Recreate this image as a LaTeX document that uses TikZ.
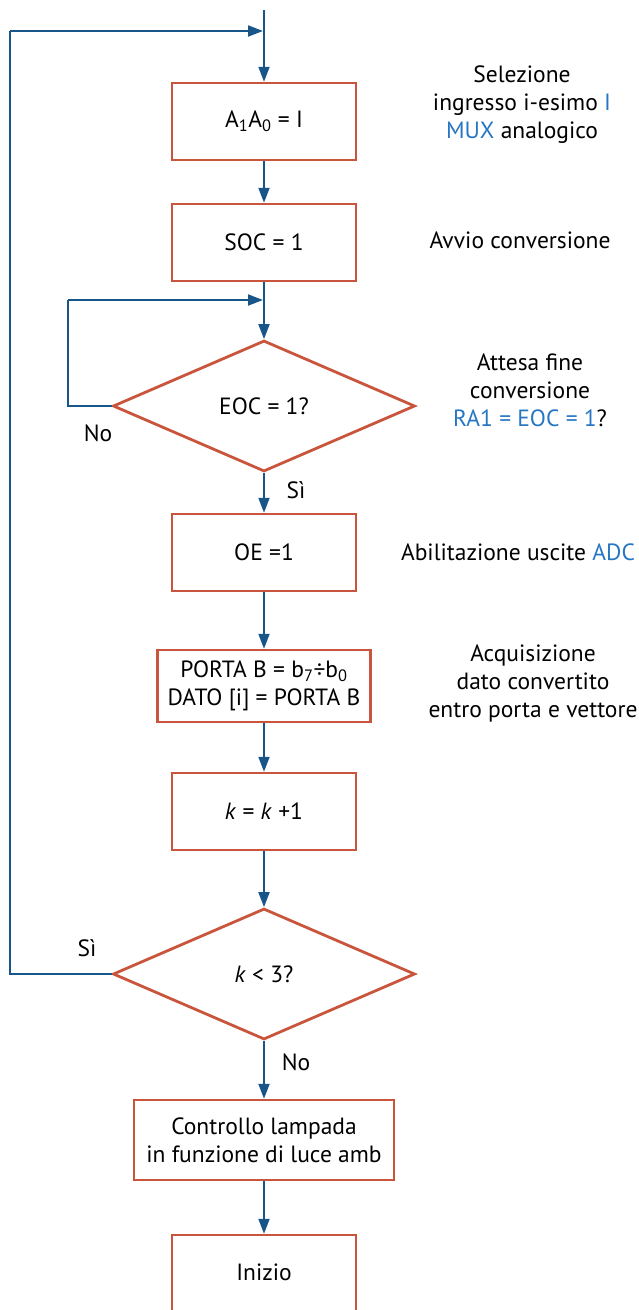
\documentclass[tikz,border=0pt]{standalone}
\usepackage{fontspec}
\setmainfont{PT Sans}
\usetikzlibrary{arrows.meta,shapes.geometric}
\definecolor{boxred}{RGB}{201,86,60}
\definecolor{flowblue}{RGB}{24,86,138}
\definecolor{noteblue}{RGB}{38,118,196}
\begin{document}
\begin{tikzpicture}[x=1pt,y=1pt,font=\fontsize{23.5}{28}\selectfont]
	\tikzstyle{block}=[draw=boxred,line width=2.5pt,minimum width=184pt,minimum height=77pt,align=center,inner sep=0pt]
	\tikzstyle{test}=[draw=boxred,line width=2.8pt,diamond,minimum width=302pt,minimum height=131pt,inner sep=0pt]
	\tikzstyle{note}=[align=center]
	\tikzstyle{answer}=[anchor=center]
	\tikzstyle{flow}=[line width=2pt,flowblue,-{Triangle[length=15pt,width=11pt]}]
	\tikzstyle{back}=[line width=2pt,flowblue]
	\useasboundingbox (0,0) rectangle (639,-1310);
	\node (sel) at (264,-121.5) [block] {A\textsubscript{1}A\textsubscript{0} = I};
	\node (soc) at (264,-242.5) [block] {SOC = 1};
	\node (eoc) at (264,-406) [test] {EOC = 1?};
	\node (oe) at (264,-552.5) [block] {OE =1};
	\node (porta) at (264,-686) [block,minimum width=213pt,minimum height=72pt] {PORTA B = b\textsubscript{7}÷b\textsubscript{0}\\DATO [i] = PORTA B};
	\node (inc) at (264,-811.5) [block] {\textit{k} = \textit{k} +1};
	\node (cnt) at (264,-974) [test] {\textit{k} < 3?};
	\node (lamp) at (264,-1140) [block,minimum width=260pt,minimum height=80pt] {Controllo lampada\\in funzione di luce amb};
	\node (start) at (264,-1280) [block,minimum height=90pt] {};
	\node (startlbl) at (264,-1272) [answer] {Inizio};
	\node (n1) at (522,-105) [note] {Selezione\\ingresso i-esimo {\color{noteblue}I}\\{\color{noteblue}MUX} analogico};
	\node (n2) at (520,-240) [note] {Avvio conversione};
	\node (n3) at (530,-390) [note] {Attesa fine\\conversione\\{\color{noteblue}RA1 = EOC = 1}?};
	\node (n4) at (518,-552) [note] {Abilitazione uscite {\color{noteblue}ADC}};
	\node (n5) at (533,-683) [note] {Acquisizione\\dato convertito\\entro porta e vettore};
	\node (no1) at (98,-433) [answer] {No};
	\node (si1) at (296,-490) [answer] {Sì};
	\node (si2) at (87,-948) [answer] {Sì};
	\node (no2) at (296,-1062) [answer] {No};
	\coordinate (top) at (264,-10);
	\coordinate (j1) at (264,-31);
	\coordinate (l1) at (10,-31);
	\coordinate (j2) at (264,-300);
	\coordinate (l2) at (68,-300);
	\draw [flow] (top) -- (sel.north);
	\draw [flow] (sel.south) -- (soc.north);
	\draw [flow] (soc.south) -- (eoc.north);
	\draw [flow] (eoc.south) -- (oe.north);
	\draw [flow] (oe.south) -- (porta.north);
	\draw [flow] (porta.south) -- (inc.north);
	\draw [flow] (inc.south) -- (cnt.north);
	\draw [flow] (cnt.south) -- (lamp.north);
	\draw [flow] (lamp.south) -- (start.north);
	\draw [back] (eoc.west) -| (l2);
	\draw [flow] (l2) -- ([xshift=-1pt]j2);
	\draw [back] (cnt.west) -| (l1);
	\draw [flow] (l1) -- ([xshift=-1pt]j1);
\end{tikzpicture}
\end{document}
